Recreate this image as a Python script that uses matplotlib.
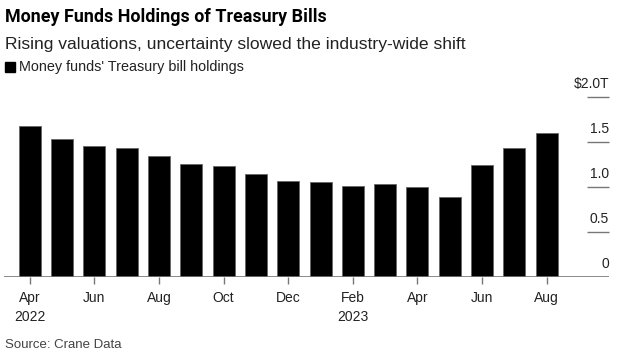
import matplotlib.pyplot as plt

# Monthly money fund T-bill holdings, trillions of dollars
months = ['Apr', 'May', 'Jun', 'Jul', 'Aug', 'Sep', 'Oct', 'Nov', 'Dec',
          'Jan', 'Feb', 'Mar', 'Apr', 'May', 'Jun', 'Jul', 'Aug']
years = ['2022'] * 9 + ['2023'] * 8
holdings = [1.68, 1.53, 1.46, 1.43, 1.34, 1.26, 1.23, 1.15, 1.07,
            1.06, 1.01, 1.03, 1.00, 0.89, 1.24, 1.43, 1.60]
y_ticks = [0, 0.5, 1.0, 1.5, 2.0]
y_labels = ['0', '0.5', '1.0', '1.5', '$2.0T']

plt.rcParams['font.family'] = ['Liberation Sans', 'DejaVu Sans']

W, H = 623, 357
fig = plt.figure(figsize=(W / 100, H / 100), dpi=100)

# axes placed in pixel terms
ax = fig.add_axes([4 / W, 80 / H, 605 / W, 180 / H])
x = list(range(len(holdings)))
ax.bar(x, holdings, width=0.68, color='black', edgecolor='#666666', linewidth=0.6, zorder=2)
ax.set_xlim(-0.80, 17.93)
ax.set_ylim(0, 2.0)

for s in ax.spines.values():
    s.set_visible(False)
ax.axhline(0, color='#777777', lw=1.2, zorder=3)

# right-side short gridlines with labels above
ax.hlines(y_ticks[1:], 17.24, 17.93, color='#777777', lw=1, clip_on=False)
for v, lbl in zip(y_ticks, y_labels):
    ax.annotate(lbl, (17.93, v), xytext=(0, 6), textcoords='offset pixels',
                ha='right', va='bottom', fontsize=10, color='#222222', annotation_clip=False)
ax.set_yticks([])

tick_pos = x[::2]
tick_lbl = []
prev_year = None
for i in tick_pos:
    lbl = months[i]
    if years[i] != prev_year:
        lbl += '\n' + years[i]
        prev_year = years[i]
    tick_lbl.append(lbl)
ax.set_xticks(tick_pos)
ax.set_xticklabels(tick_lbl, fontsize=10, color='#222222', linespacing=1.45)
ax.tick_params(axis='x', length=5, width=1, color='#777777', pad=5, direction='out')

fig.text(5 / W, 1 - 17 / H, 'Money Funds Holdings of Treasury Bills', fontsize=12.9,
         fontweight='bold', family=['Roboto', 'DejaVu Sans'], va='center', ha='left')
fig.text(5 / W, 1 - 45 / H, 'Rising valuations, uncertainty slowed the industry-wide shift',
         fontsize=12.6, va='center', ha='left', color='#222222')
fig.patches.append(plt.Rectangle((5 / W, 1 - 72 / H), 10 / W, 10 / H, color='black',
                                 transform=fig.transFigure, figure=fig))
fig.text(19 / W, 1 - 67 / H, "Money funds' Treasury bill holdings", fontsize=10.4,
         va='center', ha='left', color='#222222')
fig.text(5 / W, 1 - 345 / H, 'Source: Crane Data', fontsize=9.5, va='center', ha='left',
         color='#444444')

fig.savefig('out.png', dpi=100)
